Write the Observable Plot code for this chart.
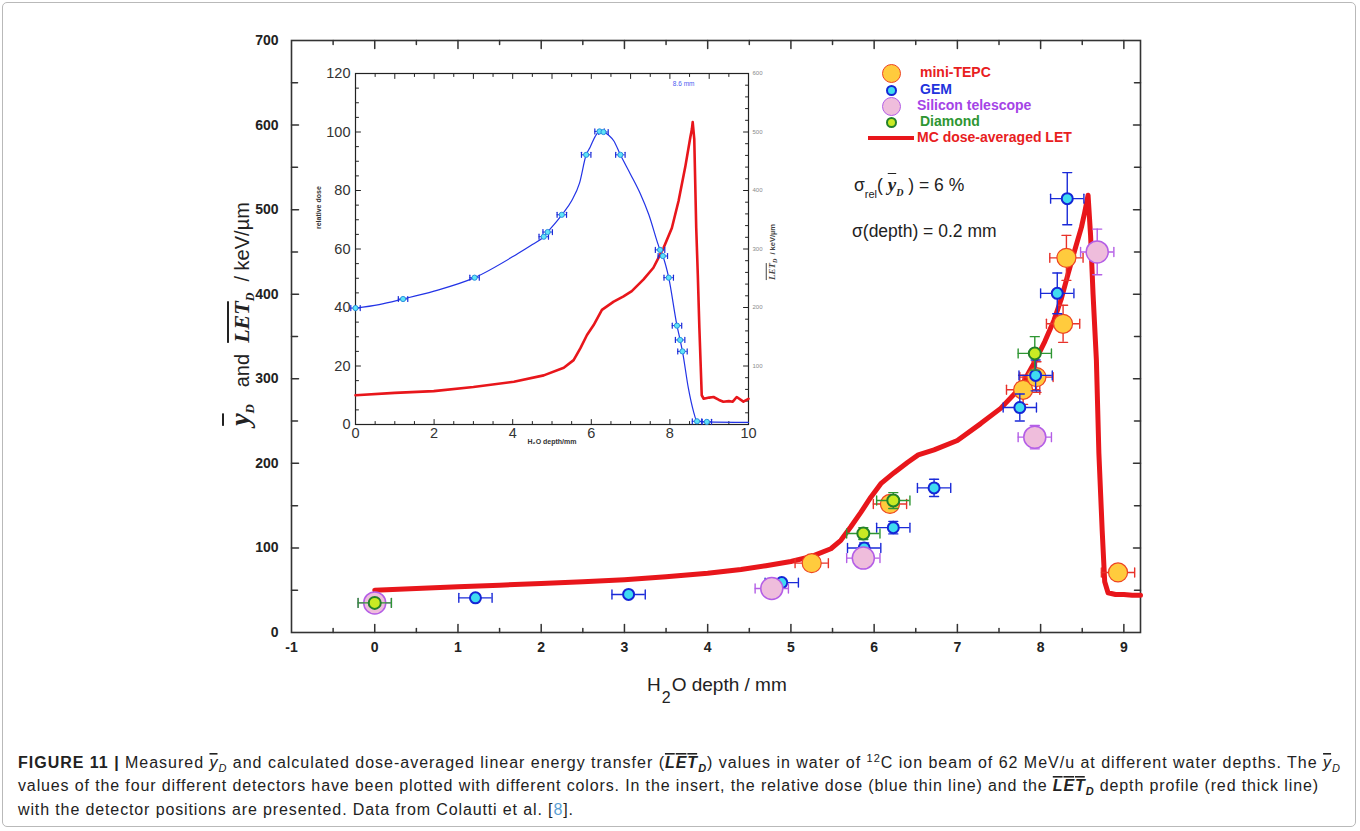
<!DOCTYPE html>
<html>
<head>
<meta charset="utf-8">
<script src="https://cdn.jsdelivr.net/npm/d3@7"></script>
<script src="https://cdn.jsdelivr.net/npm/@observablehq/plot@0.6"></script>
<style>
  body { margin: 0; background: #fff; }
  #wrap { position: relative; width: 1360px; height: 831px; overflow: hidden; font-family: "Liberation Sans", Arial, sans-serif; color: #222; }
  #border { position: absolute; left: 2px; top: 2px; width: 1354px; height: 825px; border: 1px solid #b9b9b9; border-radius: 5px; box-sizing: border-box; }
  #main { position: absolute; left: 0; top: 0; }
  #inset { position: absolute; left: 310px; top: 60px; }
  .abs { position: absolute; white-space: nowrap; line-height: 1; }
  .rot { transform: translate(-50%, -50%) rotate(-90deg); }
  .serifsym { font-family: "Liberation Serif", "DejaVu Serif", serif; font-weight: bold; font-style: italic; }
  .ov { text-decoration: overline; }
  .leg { font-weight: bold; font-size: 14px; }
  .mk { position: absolute; border-radius: 50%; box-sizing: border-box; }
  #caption { position: absolute; left: 0; top: 735px; }
</style>
</head>
<body>
<div id="wrap">
  <div id="border"></div>
  <div id="main"></div>
  <div id="inset"></div>
</div>
<script>
// ---------------- DATA ----------------
// Main chart: MC dose-averaged LET curve (depth in mm, keV/um)
const letDepth = [0, 0.5, 1, 1.5, 2, 2.5, 3, 3.5, 4, 4.4, 4.7, 5.0, 5.25, 5.48, 5.6, 5.72, 5.84, 5.96, 6.08, 6.24, 6.4, 6.53, 6.72, 7.0, 7.28, 7.52, 7.76, 7.94, 8.05, 8.16, 8.25, 8.33, 8.41, 8.49, 8.53, 8.57, 8.6, 8.63, 8.67, 8.7, 8.74, 8.77, 8.81, 8.9, 9.0, 9.1, 9.2];
const letValue = [50, 52, 54, 56, 58, 60, 62.5, 66, 70, 74.5, 79, 84, 90, 99, 109, 125, 142, 160, 176, 189, 201, 210, 216, 227, 247, 265, 290, 322, 344, 369, 395, 424, 452, 479, 497, 517, 470, 400, 322, 212, 120, 60, 47, 45, 45, 44, 44];

// Detectors (depth mm, y_D keV/um)
const tepcDepth = [5.25, 6.19, 7.79, 7.95, 8.27, 8.31, 8.93];
const tepcY     = [82, 152, 287, 302, 365, 443, 71];
const gemDepth  = [1.21, 3.05, 4.89, 5.88, 6.23, 6.72, 7.75, 7.94, 8.20, 8.32];
const gemY      = [41, 45, 59, 100, 124, 171, 266, 304, 401, 513];
const siDepth   = [0, 4.77, 5.87, 7.93, 8.68];
const siY       = [35, 52, 88, 231, 450];
const diaDepth  = [0, 5.87, 6.23, 7.93];
const diaY      = [35, 117, 156, 330];
const relErr = 0.06;     // sigma_rel(y_D)
const depthErr = 0.2;    // sigma(depth) mm

// Main axis ticks
const xTickLabels = [-1, 0, 1, 2, 3, 4, 5, 6, 7, 8, 9];
const yTickLabels = [0, 100, 200, 300, 400, 500, 600, 700];

// Inset: relative dose (blue)
const doseDepth = [0, 0.6, 1.21, 2, 3.03, 4.03, 4.5, 4.79, 4.89, 5.25, 5.5, 5.7, 5.87, 5.97, 6.1, 6.21, 6.31, 6.45, 6.57, 6.74, 7.0, 7.25, 7.46, 7.75, 7.82, 7.97, 8.18, 8.26, 8.32, 8.47, 8.6, 8.69, 8.94, 10];
const doseValue = [39.8, 41.0, 42.9, 45.6, 50.2, 57.6, 61.5, 64.2, 65.8, 71.7, 76.5, 82.5, 92.2, 94.8, 98.5, 100.2, 100, 98.8, 97, 92.2, 85.5, 78.8, 71.9, 59.7, 57.6, 50.2, 33.8, 28.9, 25, 12.4, 4.5, 1.1, 0.9, 0.7];
const doseMarkDepth = [0, 1.21, 3.03, 4.79, 4.89, 5.25, 5.87, 6.21, 6.31, 6.74, 7.75, 7.82, 7.97, 8.18, 8.26, 8.32, 8.69, 8.94];
const doseMarkValue = [39.8, 42.9, 50.2, 64.2, 65.8, 71.7, 92.2, 100.2, 100, 92.2, 59.7, 57.6, 50.2, 33.8, 28.9, 25, 1.1, 0.9];
// Inset: LET_D profile (red, keV/um on right axis 0-600)
const insetLetDepth = [0, 1.0, 1.99, 3.0, 4.03, 4.79, 5.3, 5.55, 5.72, 5.89, 6.06, 6.27, 6.57, 6.82, 7.03, 7.33, 7.58, 7.84, 8.05, 8.22, 8.39, 8.52, 8.56, 8.58, 8.62, 8.67, 8.71, 8.75, 8.81, 8.86, 9.0, 9.11, 9.25, 9.36, 9.5, 9.6, 9.7, 9.87, 10];
const insetLetValue = [50, 54, 57, 64, 73, 84, 97, 110, 130, 153, 170, 196, 210, 219, 228, 248, 268, 302, 336, 382, 440, 491, 505, 517, 488, 336, 256, 165, 50, 44, 46, 47, 42, 39, 40, 39, 47, 39, 44];
const insetXLabels = [0, 2, 4, 6, 8, 10];
const insetYLabels = [0, 20, 40, 60, 80, 100, 120];
const insetLetLabels = [100, 200, 300, 400, 500, 600];
const letToDose = 120 / 600;  // right axis (0-600) onto left axis (0-120)
const peakNote = [{depth: 8.35, dose: 116.3, text: "8.6 mm"}];

// ---------------- HELPERS ----------------
const tickShape = { draw(context, l) { context.moveTo(0, 0); context.lineTo(0, -l); } };
const rows = (ds, vs) => ds.map((d, i) => ({d, v: vs[i]}));
const FONT = "Liberation Sans, Arial, Helvetica, sans-serif";

function detectorMarks(data, st) {
  const eb = {stroke: st.bar, strokeWidth: 1.4};
  return [
    Plot.ruleY(data, {y: "v", x1: r => r.d - depthErr, x2: r => r.d + depthErr, ...eb}),
    Plot.vector(data, {x: r => r.d - depthErr, y: "v", length: 9, anchor: "middle", shape: tickShape, ...eb}),
    Plot.vector(data, {x: r => r.d + depthErr, y: "v", length: 9, anchor: "middle", shape: tickShape, ...eb}),
    Plot.ruleX(data, {x: "d", y1: r => r.v * (1 - relErr), y2: r => r.v * (1 + relErr), ...eb}),
    Plot.vector(data, {x: "d", y: r => r.v * (1 + relErr), length: 9, rotate: 90, anchor: "middle", shape: tickShape, ...eb}),
    Plot.vector(data, {x: "d", y: r => r.v * (1 - relErr), length: 9, rotate: 90, anchor: "middle", shape: tickShape, ...eb}),
    Plot.dot(data, {x: "d", y: "v", r: st.r, fill: st.fill, stroke: st.stroke, strokeWidth: st.sw})
  ];
}

function frameTicks(vals, pos, len, color, sw) {
  return Plot.vector(vals, {
    x: pos.x !== undefined ? pos.x : d => d,
    y: pos.y !== undefined ? pos.y : d => d,
    length: len, rotate: pos.rotate, anchor: "start", shape: tickShape,
    stroke: color, strokeWidth: sw
  });
}

// ---------------- MAIN PLOT ----------------
const xMajor = d3.range(0, 9.01, 1);
const xMinor = d3.range(-0.5, 9.0, 1);
const yMajor = d3.range(100, 601, 100);
const yMinor = d3.range(50, 700, 100);
const axC = "#333";

const main = Plot.plot({
  width: 1360, height: 720,
  marginLeft: 291, marginRight: 220, marginTop: 40, marginBottom: 88,
  x: {domain: [-1, 9.2]},
  y: {domain: [0, 700]},
  style: {fontFamily: FONT, background: "transparent", overflow: "visible"},
  marks: [
    Plot.frame({stroke: axC, strokeWidth: 1.6}),
    Plot.axisX(xTickLabels, {tickSize: 0, tickPadding: 10, tickFormat: d => String(d), fontSize: 14, fontWeight: "bold", fill: "#222", label: null}),
    Plot.axisY(yTickLabels, {tickSize: 0, tickPadding: 13, tickFormat: d => String(d), fontSize: 14, fontWeight: "bold", fill: "#222", label: null}),
    frameTicks(xMajor, {y: 0, rotate: 0}, 8, axC, 1.5),
    frameTicks(xMinor, {y: 0, rotate: 0}, 4, axC, 1.5),
    frameTicks(xMajor, {y: 700, rotate: 180}, 8, axC, 1.5),
    frameTicks(xMinor, {y: 700, rotate: 180}, 4, axC, 1.5),
    frameTicks(yMajor, {x: -1, rotate: 90}, 7, axC, 1.5),
    frameTicks(yMinor, {x: -1, rotate: 90}, 6, axC, 1.5),
    frameTicks(yMajor, {x: 9.2, rotate: -90}, 7, axC, 1.5),
    frameTicks(yMinor, {x: 9.2, rotate: -90}, 6, axC, 1.5),
    Plot.line(rows(letDepth, letValue), {x: "d", y: "v", stroke: "#e8161b", strokeWidth: 5, strokeLinejoin: "round", strokeLinecap: "round"}),
    ...detectorMarks(rows(tepcDepth, tepcY), {bar: "#e8322a", fill: "#ffcb3d", stroke: "#ee4422", sw: 1.2, r: 9.5}),
    ...detectorMarks(rows(gemDepth, gemY), {bar: "#1a2ad8", fill: "#3fdcf0", stroke: "#1426d6", sw: 2, r: 5.5}),
    ...detectorMarks(rows(siDepth, siY), {bar: "#b45ee6", fill: "#efbddc", stroke: "#b45ee6", sw: 1.5, r: 11}),
    ...detectorMarks(rows(diaDepth, diaY), {bar: "#2e9632", fill: "#c9ea24", stroke: "#23802a", sw: 2, r: 6})
  ]
});
document.getElementById("main").appendChild(main);

// ---------------- INSET PLOT ----------------
const iC = "#222";
const inset = Plot.plot({
  width: 470, height: 395,
  marginLeft: 45, marginRight: 32, marginTop: 13, marginBottom: 31,
  x: {domain: [0, 10]},
  y: {domain: [0, 120]},
  style: {fontFamily: FONT, background: "#fff", overflow: "visible"},
  marks: [
    Plot.frame({stroke: iC, strokeWidth: 1.2}),
    Plot.axisX(insetXLabels, {tickSize: 0, tickPadding: 3, fontSize: 14.5, fill: "#333", tickFormat: d => String(d), label: null}),
    Plot.axisY(insetYLabels, {tickSize: 0, tickPadding: 5, fontSize: 14.5, fill: "#333", tickFormat: d => String(d), label: null}),
    Plot.axisY(insetLetLabels.map(v => v * letToDose), {anchor: "right", tickSize: 0, tickPadding: 4, fontSize: 6, fill: "#8a8a8a", tickFormat: d => String(Math.round(d / letToDose)), label: null}),
    frameTicks(d3.range(2, 9, 2), {y: 0, rotate: 0}, 5, iC, 1),
    frameTicks(d3.range(0.5, 10, 0.5).filter(d => d % 2 !== 0), {y: 0, rotate: 0}, 3, iC, 1),
    frameTicks(d3.range(1, 10, 1), {y: 120, rotate: 180}, 5, iC, 1),
    frameTicks(d3.range(0.5, 10, 1), {y: 120, rotate: 180}, 3, iC, 1),
    frameTicks(d3.range(20, 120, 20), {x: 0, rotate: 90}, 5, iC, 1),
    frameTicks(d3.range(5, 120, 5).filter(d => d % 20 !== 0), {x: 0, rotate: 90}, 3, iC, 1),
    frameTicks(d3.range(20, 120, 20), {x: 10, rotate: -90}, 5, iC, 1),
    frameTicks(d3.range(4, 120, 4).filter(d => d % 20 !== 0), {x: 10, rotate: -90}, 3, iC, 1),
    Plot.line(rows(insetLetDepth, insetLetValue), {x: "d", y: r => r.v * letToDose, stroke: "#e8161b", strokeWidth: 2.6, strokeLinejoin: "round"}),
    Plot.line(rows(doseDepth, doseValue), {x: "d", y: "v", stroke: "#2233e6", strokeWidth: 1.2, curve: "monotone-x"}),
    Plot.ruleY(rows(doseMarkDepth, doseMarkValue), {y: "v", x1: r => r.d - 0.12, x2: r => r.d + 0.12, stroke: "#1a2ad8", strokeWidth: 1}),
    Plot.vector(rows(doseMarkDepth, doseMarkValue), {x: r => r.d - 0.12, y: "v", length: 5, anchor: "middle", shape: tickShape, stroke: "#1a2ad8", strokeWidth: 1.2}),
    Plot.vector(rows(doseMarkDepth, doseMarkValue), {x: r => r.d + 0.12, y: "v", length: 5, anchor: "middle", shape: tickShape, stroke: "#1a2ad8", strokeWidth: 1.2}),
    Plot.dot(rows(doseMarkDepth, doseMarkValue), {x: "d", y: "v", r: 2.6, fill: "#5fe4f5", stroke: "#2a8fe0", strokeWidth: 1}),
    Plot.text(peakNote, {x: "depth", y: "dose", text: "text", fontSize: 6.5, fill: "#4c5cf0"}),
    Plot.text(["H\u2082O depth/mm"], {frameAnchor: "bottom", dy: 19, fontSize: 7, fontWeight: "bold", fill: "#333"}),
    Plot.text(["relative dose"], {frameAnchor: "left", dx: -37, dy: -20, rotate: -90, fontSize: 7, fontWeight: "bold", fill: "#333"})
  ]
});
document.getElementById("inset").appendChild(inset);

// ---------------- HTML TEXT OVERLAYS ----------------
const wrap = document.getElementById("wrap");
function addHTML(html) { wrap.insertAdjacentHTML("beforeend", html); }

// Inset right label (LET_D / keV/um)
addHTML(`<div class="abs rot" style="left:773px; top:252px; font-size:7.5px; font-weight:bold; color:#444;"><span class="serifsym ov" style="font-size:9px">LET</span><sub class="serifsym" style="font-size:6px">D</sub>&nbsp; / keV/\u00b5m</div>`);

// Main y label
addHTML(`<div class="abs rot" style="left:241px; top:314px; font-size:20px; color:#222;"><span class="serifsym ov" style="font-size:28px">y</span><sub class="serifsym" style="font-size:13px">D</sub>&nbsp;&nbsp; and &nbsp;<span class="serifsym ov" style="font-size:22px">LET</span><sub class="serifsym" style="font-size:12px">D</sub>&nbsp; / keV/\u00b5m</div>`);

// Main x label
addHTML(`<div class="abs" style="left:647px; top:675px; font-size:19px; color:#222;">H<span style="font-size:16px; position:relative; top:12px; margin:0 1px;">2</span>O depth / mm</div>`);

// Annotations
addHTML(`<div class="abs" style="left:854px; top:175px; font-size:17.5px; color:#222;">\u03c3<span style="font-size:11px; position:relative; top:7px;">rel</span>( <span class="serifsym ov" style="font-size:19px">y</span><sub class="serifsym" style="font-size:10px">D</sub> ) = 6 %</div>`);
addHTML(`<div class="abs" style="left:852px; top:223px; font-size:17.5px; color:#222;">\u03c3(depth) = 0.2 mm</div>`);

// Legend
const legend = [
  {label: "mini-TEPC", color: "#e8201e", cy: 73, r: 9.5, fill: "#ffcb3d", stroke: "#ee4422", sw: 1.2},
  {label: "GEM", color: "#2233dd", cy: 90, r: 5.5, fill: "#3fdcf0", stroke: "#1426d6", sw: 2},
  {label: "Silicon telescope", color: "#a444e6", cy: 106, r: 9.5, fill: "#efbddc", stroke: "#b45ee6", sw: 1.5},
  {label: "Diamond", color: "#2e9632", cy: 122, r: 5.5, fill: "#c9ea24", stroke: "#23802a", sw: 2}
];
legend.forEach(l => {
  addHTML(`<div class="mk" style="left:${891 - l.r}px; top:${l.cy - l.r}px; width:${2 * l.r}px; height:${2 * l.r}px; background:${l.fill}; border:${l.sw}px solid ${l.stroke};"></div>`);
  addHTML(`<div class="abs leg" style="left:${l.label === "Silicon telescope" ? 917 : 920}px; top:${l.cy - 8}px; color:${l.color};">${l.label}</div>`);
});
addHTML(`<div style="position:absolute; left:868px; top:136px; width:46px; height:4px; background:#e8161b;"></div>`);
addHTML(`<div class="abs leg" style="left:917px; top:130px; color:#e8201e;">MC dose-averaged LET</div>`);

// Caption (SVG text lines, stretched to the reference line widths)
const capLines = [
  {y: 33, len: 1322, html: `<tspan font-weight="bold">FIGURE 11 | </tspan>Measured <tspan font-style="italic" style="text-decoration:overline">y</tspan><tspan font-style="italic" font-size="11" dy="4">D</tspan><tspan dy="-4"> and calculated dose-averaged linear energy transfer (</tspan><tspan font-weight="bold" font-style="italic" style="text-decoration:overline">LET</tspan><tspan font-weight="bold" font-style="italic" font-size="11" dy="4">D</tspan><tspan dy="-4">) values in water of </tspan><tspan font-size="11" dy="-6">12</tspan><tspan dy="6">C ion beam of 62 MeV/u at different water depths. The </tspan><tspan font-style="italic" style="text-decoration:overline">y</tspan><tspan font-style="italic" font-size="11" dy="4">D</tspan>`},
  {y: 56, len: 1300, html: `values of the four different detectors have been plotted with different colors. In the insert, the relative dose (blue thin line) and the <tspan font-weight="bold" font-style="italic" style="text-decoration:overline">LET</tspan><tspan font-weight="bold" font-style="italic" font-size="11" dy="4">D</tspan><tspan dy="-4"> depth profile (red thick line)</tspan>`},
  {y: 80, len: 555, html: `with the detector positions are presented. Data from Colautti et al. [<tspan fill="#5a9fd4">8</tspan>].`}
];
const capSvg = `<svg id="caption" width="1360" height="95" xmlns="http://www.w3.org/2000/svg" style="font-family:${FONT}; font-size:16px; fill:#222;">` +
  capLines.map(c => `<text x="18" y="${c.y}" textLength="${c.len}" lengthAdjust="spacing">${c.html}</text>`).join("") + `</svg>`;
addHTML(capSvg);
</script>
</body>
</html>
